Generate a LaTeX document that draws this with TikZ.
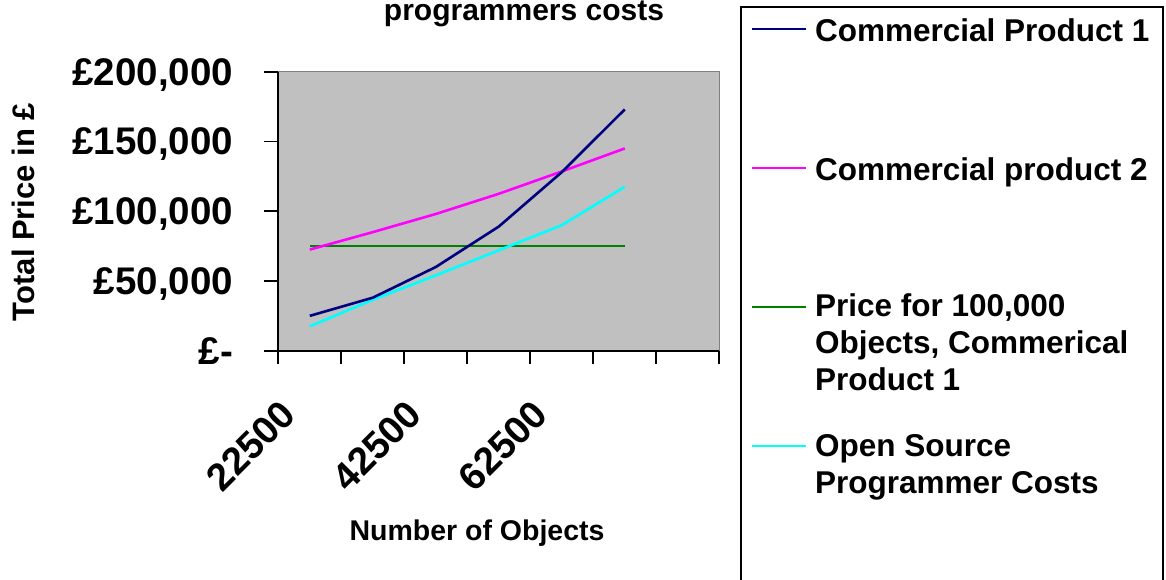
\documentclass[tikz,border=0pt]{standalone}
\usepackage{fontspec}
\setmainfont{Liberation Sans}
\begin{document}
\begin{tikzpicture}[x=1pt,y=-1pt,
  every node/.style={inner sep=0pt,outer sep=0pt,font=\bfseries},
  series/.style={line width=2.6pt,line join=round},
  axisline/.style={line width=1.8pt,black},
  ticklab/.style={font=\bfseries\fontsize{38.5}{46}\selectfont},
  legtext/.style={font=\bfseries\fontsize{31.5}{36.7}\selectfont,align=left,anchor=base west},
  legline/.style={line width=2pt}]
\definecolor{plotgray}{RGB}{192,192,192}
\definecolor{framegray}{RGB}{128,128,128}
\definecolor{cpone}{RGB}{0,0,128}
\definecolor{cptwo}{RGB}{255,0,255}
\definecolor{flat}{RGB}{0,128,0}
\definecolor{oss}{RGB}{0,255,255}
\useasboundingbox (0,0) rectangle (1166,579);

% plot area
\fill[plotgray] (278.3,71.7) rectangle (719.3,350.7);
\draw[framegray,line width=1.5pt] (278.3,71.7) -- (719.3,71.7) -- (719.3,350.7);

% y axis with ticks at every 50,000
\draw[axisline] (278.3,71.7) -- (278.3,364);
\foreach \v/\lab [count=\i] in {0/{\pounds-},50/{\pounds50,000},100/{\pounds100,000},150/{\pounds150,000},200/{\pounds200,000}}{
  \pgfmathsetmacro{\yy}{350.7-1.395*\v}
  \draw[axisline] (264,\yy) -- (278.3,\yy);
  \node[ticklab,anchor=base east] (ylab\i) at (233,\yy+13.5) {\lab};
}

% x axis with category ticks
\draw[axisline] (264,350.7) -- (719.3,350.7);
\foreach \k in {0,...,7}{
  \draw[axisline] (278.3+63*\k,350.7) -- (278.3+63*\k,364);
}
\node[ticklab,rotate=45,anchor=east] (xa) at (288.5,408) {22500};
\node[ticklab,rotate=45,anchor=east] (xb) at (414.5,408) {42500};
\node[ticklab,rotate=45,anchor=east] (xc) at (540.5,408) {62500};

% data series (x = category centres)
\def\cx#1{309.8+63*#1}
\def\py#1{350.7-1.395*#1}
\draw[series,flat] (\cx0,{\py{75}}) -- (\cx5,{\py{75}});
\draw[series,oss] (\cx0,{\py{17.5}}) -- (\cx1,{\py{36.5}}) -- (\cx2,{\py{54}}) -- (\cx3,{\py{72}}) -- (\cx4,{\py{90}}) -- (\cx5,{\py{117.5}});
\draw[series,cptwo] (\cx0,{\py{72.5}}) -- (\cx1,{\py{85}}) -- (\cx2,{\py{98}}) -- (\cx3,{\py{112.5}}) -- (\cx4,{\py{128.5}}) -- (\cx5,{\py{145}});
\draw[series,cpone] (\cx0,{\py{25}}) -- (\cx1,{\py{38}}) -- (\cx2,{\py{60}}) -- (\cx3,{\py{89}}) -- (\cx4,{\py{128}}) -- (\cx5,{\py{173}});

% titles
\node[font=\bfseries\fontsize{30}{36}\selectfont,anchor=base] (title) at (524,20) {programmers costs};
\node[font=\bfseries\fontsize{28.5}{34}\selectfont,anchor=base] (xtitle) at (477,540) {Number of Objects};
\node[font=\bfseries\fontsize{31}{37}\selectfont,rotate=90,anchor=base] (ytitle) at (34.5,212) {Total Price in \pounds};

% legend
\draw[line width=2pt] (740.5,590) -- (740.5,7.3) -- (1162.5,7.3) -- (1162.5,590);
\coordinate (la1) at (752,29.3);  \coordinate (lb1) at (806,29.3);
\coordinate (la2) at (752,168.3); \coordinate (lb2) at (806,168.3);
\coordinate (la3) at (752,306.7); \coordinate (lb3) at (806,306.7);
\coordinate (la4) at (752,445.7); \coordinate (lb4) at (806,445.7);
\draw[legline,cpone] (la1) -- (lb1);
\draw[legline,cptwo] (la2) -- (lb2);
\draw[legline,flat] (la3) -- (lb3);
\draw[legline,oss] (la4) -- (lb4);
% multi-line entries are placed by the baseline of their last line
\node[legtext] (leg1) at (815,41.7) {Commercial Product 1};
\node[legtext] (leg2) at (815,180) {Commercial product 2};
\node[legtext] (leg3) at (815,390) {Price for 100,000\\Objects, Commerical\\Product 1};
\node[legtext] (leg4) at (815,493.3) {Open Source\\Programmer Costs};
\end{tikzpicture}
\end{document}
